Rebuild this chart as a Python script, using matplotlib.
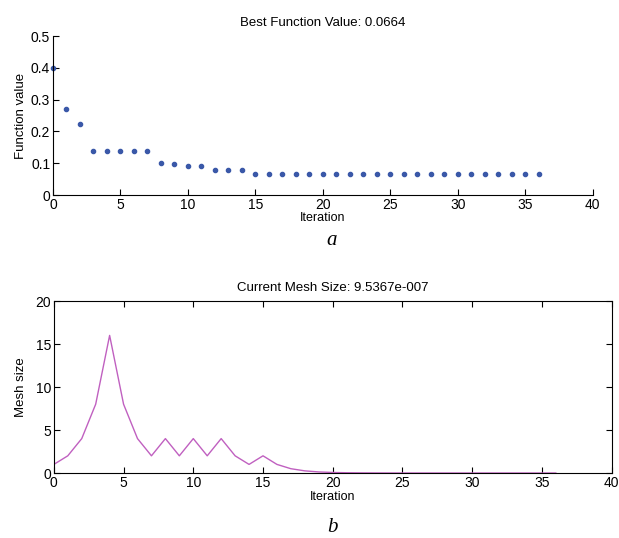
import numpy as np
import matplotlib
matplotlib.use("Agg")
import matplotlib.pyplot as plt

plt.rcParams['font.family'] = ['Liberation Sans', 'DejaVu Sans']
plt.rcParams['font.size'] = 8

# ---- data ----
iters = list(range(37))
best_f = [0.400, 0.270, 0.222, 0.140, 0.137, 0.137, 0.137, 0.137, 0.100, 0.099,
          0.090, 0.090, 0.080, 0.080, 0.080, 0.0664, 0.0664, 0.0664, 0.0664, 0.0664,
          0.0664, 0.0664, 0.0664, 0.0664, 0.0664, 0.0664, 0.0664, 0.0664, 0.0664, 0.0664,
          0.0664, 0.0664, 0.0664, 0.0664, 0.0664, 0.0664, 0.0664]
mesh = [1, 2, 4, 8, 16, 8, 4, 2, 4, 2,
        4, 2, 4, 2, 1, 2, 1, 0.5, 0.25, 0.125,
        0.0625, 0.03125, 0.015625, 0.0078125, 0.00390625, 0.001953125, 9.765625e-4,
        4.8828125e-4, 2.44140625e-4, 1.220703125e-4, 6.103515625e-5, 3.0517578125e-5,
        1.52587890625e-5, 7.62939453125e-6, 3.814697265625e-6, 1.9073486328125e-6,
        9.5367431640625e-7]

fig = plt.figure(figsize=(6.19, 5.38), dpi=100)

# ── top panel: best function value ──
ax1 = fig.add_axes([0.0856, 0.6375, 0.872, 0.2955])
ax1.plot(iters, best_f, linestyle='none', marker='o', ms=3.0, color='#3a58a8', clip_on=False)
ax1.set_xlim(0, 40)
ax1.set_ylim(0, 0.5)
ax1.set_xticks(range(0, 41, 5))
ax1.set_yticks([0, 0.1, 0.2, 0.3, 0.4, 0.5])
ax1.set_yticklabels(['0', '0.1', '0.2', '0.3', '0.4', '0.5'])
ax1.spines['top'].set_visible(False)
ax1.spines['right'].set_visible(False)
ax1.tick_params(direction='in', length=4, labelsize=10, pad=2)
ax1.set_title('Best Function Value: 0.0664', fontsize=9.5, pad=7)
ax1.set_xlabel('Iteration', fontsize=9, labelpad=0)
ax1.set_ylabel('Function value', fontsize=9.5, labelpad=3)
fig.text(0.535, 0.553, 'a', family='Liberation Serif', style='italic', fontsize=15, ha='center', va='center')

# ── bottom panel: mesh size ──
ax2 = fig.add_axes([0.087, 0.1208, 0.901, 0.3197])
ax2.plot(iters, mesh, color='#c060c0', lw=1)
ax2.set_xlim(0, 40)
ax2.set_ylim(0, 20)
ax2.set_xticks(range(0, 41, 5))
ax2.set_yticks(range(0, 21, 5))
ax2.tick_params(direction='in', length=4, labelsize=10, top=True, right=True, pad=2)
ax2.set_title('Current Mesh Size: 9.5367e-007', fontsize=9.5, pad=7)
ax2.set_xlabel('Iteration', fontsize=9, labelpad=1)
ax2.set_ylabel('Mesh size', fontsize=9.5, labelpad=6)
fig.text(0.537, 0.02, 'b', family='Liberation Serif', style='italic', fontsize=15, ha='center', va='center')

fig.savefig('out.png', dpi=100)
